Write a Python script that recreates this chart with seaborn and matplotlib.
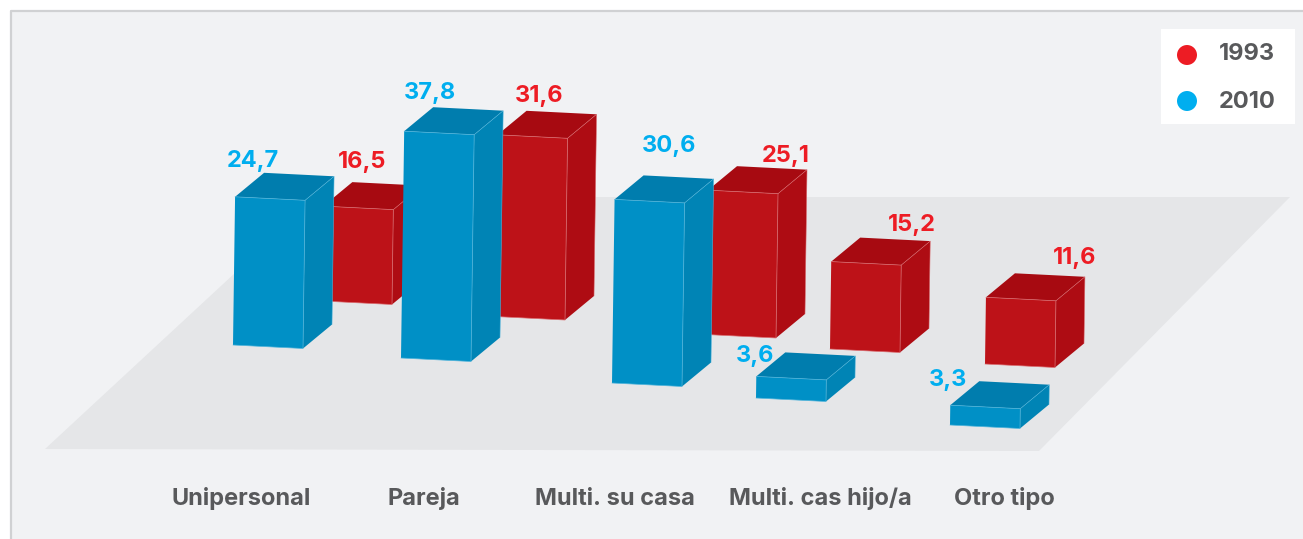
import matplotlib
matplotlib.use("Agg")
import matplotlib.pyplot as plt
import seaborn as sns

categories = ["Unipersonal", "Pareja", "Multi. su casa", "Multi. cas hijo/a", "Otro tipo"]
values_1993 = [16.5, 31.6, 25.1, 15.2, 11.6]
values_2010 = [24.7, 37.8, 30.6, 3.6, 3.3]
years = ["1993", "2010"]

# layout in picture pixels
base_1993 = [(322, 301), (495, 316.5), (706, 334.5), (830, 349), (985, 364)]
base_2010 = [(233, 345), (401, 358), (612, 383), (756, 398), (950, 425)]
label_1993 = [(362, 162), (539, 96), (786, 156), (912, 225), (1075, 258)]
label_2010 = [(253, 161), (430, 93), (669, 146), (755, 356), (948, 380)]
cat_x = [241, 424, 615, 820, 1004]
px_1993 = 5.75
px_2010 = 6.0

red = {"front": "#BD1218", "top": "#A70A11", "side": "#AE0C13", "edge": "#D96A6E", "text": "#ED1C24"}
blue = {"front": "#0090C6", "top": "#007DAE", "side": "#0084B5", "edge": "#4FB4DB", "text": "#00AEEF"}
grey = "#58595B"

sns.set_theme(style="white")
plt.rcParams["font.family"] = ["Inter", "DejaVu Sans"]

fig = plt.figure(figsize=(13.03, 5.39), dpi=100, facecolor="white")
ax = fig.add_axes([0, 0, 1, 1])
ax.set_xlim(0, 1303)
ax.set_ylim(539, 0)
ax.axis("off")

# panel and floor
ax.fill([10, 1303, 1303, 10], [10, 10, 539, 539], color="#F1F2F4", lw=0, zorder=0)
ax.plot([10.5, 10.5, 1303], [539, 11, 11], color="#D0D1D3", lw=1.6, zorder=1)
ax.fill([45, 1039, 1290, 317], [449, 451, 197, 197], color="#E5E6E8", lw=0, zorder=1)


def cuboid(x, y, value, scale, c, z):
    w = (70, 3.5)
    d = (29, -24)
    h = value * scale
    lean = h * 0.014
    fl = (x + lean, y - h)
    fr = (fl[0] + w[0], fl[1] + w[1])
    br = (x + w[0], y + w[1])
    ax.fill([fl[0], fr[0], fr[0] + d[0], fl[0] + d[0]], [fl[1], fr[1], fr[1] + d[1], fl[1] + d[1]],
            color=c["top"], lw=0, zorder=z)
    ax.fill([fr[0], br[0], br[0] + d[0], fr[0] + d[0]], [fr[1], br[1], br[1] + d[1], fr[1] + d[1]],
            color=c["side"], lw=0, zorder=z)
    ax.fill([x, br[0], fr[0], fl[0]], [y, br[1], fr[1], fl[1]], color=c["front"], lw=0, zorder=z)
    # thin light edges
    ax.plot([fl[0], fr[0], br[0], x], [fl[1], fr[1], br[1], y], color=c["edge"], lw=0.5, zorder=z)
    ax.plot([fr[0], fr[0] + d[0], br[0] + d[0]], [fr[1], fr[1] + d[1], br[1] + d[1]], color=c["edge"], lw=0.4, zorder=z)


# painted back to front, red behind blue
order = [(base_1993, values_1993, px_1993, red), (base_2010, values_2010, px_2010, blue)]
z = 3
for i in range(len(categories)):
    for bases, vals, scale, c in order:
        cuboid(bases[i][0], bases[i][1], vals[i], scale, c, z)
        z += 1

for pos, vals, c in [(label_1993, values_1993, red), (label_2010, values_2010, blue)]:
    for (x, y), v in zip(pos, vals):
        ax.text(x, y, f"{v:.1f}".replace(".", ","), color=c["text"], fontsize=17, fontweight="bold",
                ha="center", va="center", zorder=50)

for x, name in zip(cat_x, categories):
    ax.text(x, 499, name, color=grey, fontsize=17, fontweight="bold", ha="center", va="center", zorder=50)

# legend
ax.fill([1161, 1295, 1295, 1161], [29, 29, 124, 124], color="white", lw=0, zorder=60)
sns.scatterplot(x=[1187, 1187], y=[55, 101], hue=years, palette=[red["text"], blue["text"]],
                s=207, linewidth=0, legend=False, ax=ax, zorder=61)
ax.text(1247, 54, years[0], color=grey, fontsize=17, fontweight="bold", ha="center", va="center", zorder=61)
ax.text(1247, 102, years[1], color=grey, fontsize=17, fontweight="bold", ha="center", va="center", zorder=61)

ax.set_xlim(0, 1303)
ax.set_ylim(539, 0)
fig.savefig("out.png", dpi=100)
